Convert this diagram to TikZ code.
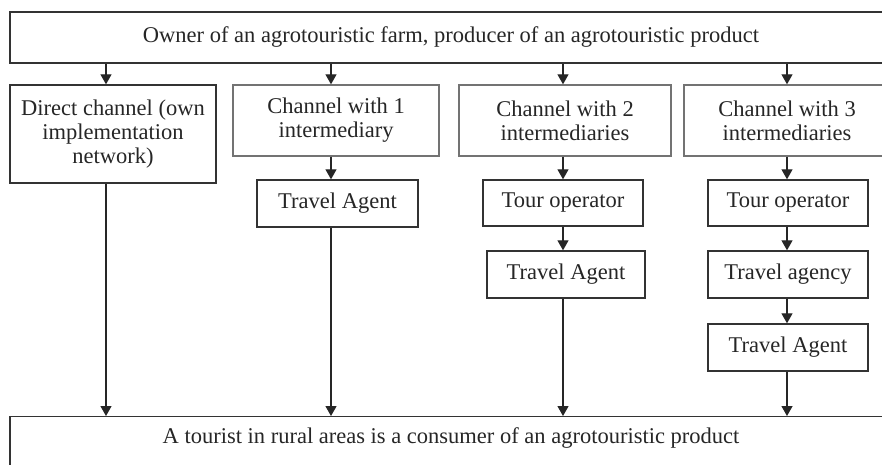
\documentclass[tikz,border=0pt]{standalone}
\usepackage{fontspec}
\setmainfont{Liberation Serif}
\usetikzlibrary{arrows.meta}
\begin{document}
\begin{tikzpicture}[x=1pt,y={(0pt,-1pt)},
  box/.style={draw=black!80, line width=1.4pt, rectangle, inner sep=0pt,
    font=\fontsize{22.5}{24}\selectfont, text=black!85, align=center},
  chbox/.style={box, draw=black!55},
  arr/.style={draw=black!85, line width=1.2pt, -{Triangle[width=11pt,length=10pt]}}]
\useasboundingbox (0,0) rectangle (882,464);
\fill[white] (0,0) rectangle (882,464);
\node[box, minimum width=882, minimum height=51] (top) at (451,37.5)
  {Owner of an agrotouristic farm, producer of an agrotouristic product};
\node[box, minimum width=206, minimum height=98] (direct) at (113,134)
  {Direct channel (own\\implementation\\network)};
\node[chbox, minimum width=206, minimum height=71] (ch1) at (336,120.5)
  {Channel with 1\\intermediary};
\node[chbox, minimum width=212, minimum height=71] (ch2) at (565,120.5)
  {Channel with 2\\intermediaries};
\node[chbox, minimum width=206, minimum height=71] (ch3) at (787,120.5)
  {Channel with 3\\intermediaries};
\node[box, minimum width=161, minimum height=47] (ta1) at (337.5,203.5) {Travel Agent};
\node[box, minimum width=160, minimum height=46] (to2) at (563,203) {Tour operator};
\node[box, minimum width=158, minimum height=47] (ta2) at (566,274.5) {Travel Agent};
\node[box, minimum width=160, minimum height=46] (to3) at (788,203) {Tour operator};
\node[box, minimum width=160, minimum height=47] (tg3) at (788,274.5) {Travel agency};
\node[box, minimum width=160, minimum height=47] (ta3) at (788,347.5) {Travel Agent};
\node[box, anchor=north, minimum width=882, text height=27, text depth=33] (bot) at (451,416)
  {A tourist in rural areas is a consumer of an agrotouristic product};
\coordinate (c0) at (106,0);
\coordinate (c1) at (331,0);
\coordinate (c2) at (563,0);
\coordinate (c3) at (787,0);
\draw[arr] (top.south -| c0) -- (direct.north -| c0);
\draw[arr] (top.south -| c1) -- (ch1.north -| c1);
\draw[arr] (top.south -| c2) -- (ch2.north -| c2);
\draw[arr] (top.south -| c3) -- (ch3.north -| c3);
\draw[arr] (ch1.south -| c1) -- (ta1.north -| c1);
\draw[arr] (ch2.south -| c2) -- (to2.north -| c2);
\draw[arr] (ch3.south -| c3) -- (to3.north -| c3);
\draw[arr] (to2.south -| c2) -- (ta2.north -| c2);
\draw[arr] (to3.south -| c3) -- (tg3.north -| c3);
\draw[arr] (tg3.south -| c3) -- (ta3.north -| c3);
\draw[arr] (direct.south -| c0) -- (bot.north -| c0);
\draw[arr] (ta1.south -| c1) -- (bot.north -| c1);
\draw[arr] (ta2.south -| c2) -- (bot.north -| c2);
\draw[arr] (ta3.south -| c3) -- (bot.north -| c3);
\end{tikzpicture}
\end{document}
